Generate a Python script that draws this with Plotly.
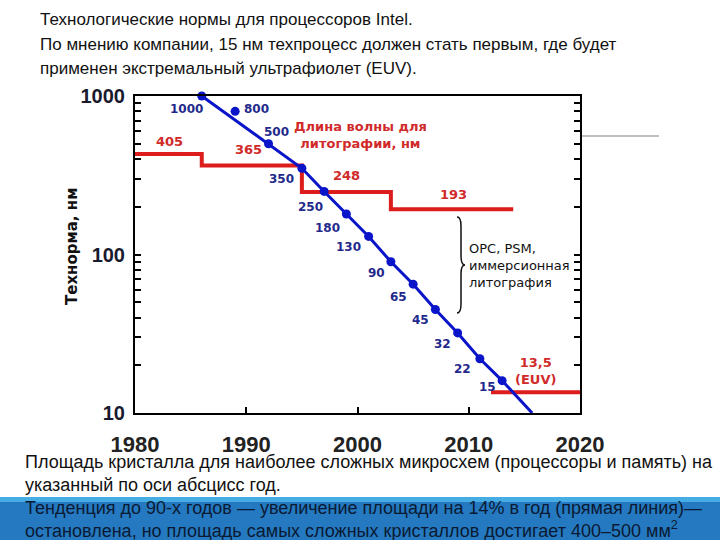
import math
import plotly.graph_objects as go

# ---------------- data ----------------
node_years = [1986, 1992, 1995, 1997, 1999, 2001, 2003, 2005, 2007, 2009, 2011, 2013]
node_values = [1000, 500, 350, 250, 180, 130, 90, 65, 45, 32, 22, 16]
node_labels = ["1000", "500", "350", "250", "180", "130", "90", "65", "45", "32", "22", "15"]
trend_end_year = 2015.7
trend_end_value = 10

extra_year = 1989
extra_value = 800
extra_label = "800"

wave_years = [1980, 1986, 1995, 2003, 2014]
wave_values = [430, 365, 248, 193, 193]
wave_labels = ["405", "365", "248", "193"]
wave_label_years = [1983.1, 1990.2, 1999.0, 2008.6]

euv_years = [2012, 2020]
euv_values = [13.5, 13.5]
euv_label = "13,5<br>(EUV)"
euv_label_year = 2016.0

x_ticks = [1980, 1990, 2000, 2010, 2020]
x_tick_text = ["1980", "1990", "2000", "2010", "2020"]
y_ticks = [10, 100, 1000]
y_tick_text = ["10", "100", "1000"]
y_minor = [20, 30, 40, 50, 60, 70, 80, 90, 200, 300, 400, 500, 600, 700, 800, 900]

title_lines = [
    "Технологические нормы для процессоров Intel.",
    "По мнению компании, 15 нм техпроцесс должен стать первым, где будет",
    "применен экстремальный ультрафиолет (EUV).",
]
bottom_lines = [
    "Площадь кристалла для наиболее сложных микросхем (процессоры и память) на",
    "указанный по оси абсцисс год.",
    "Тенденция до 90-х годов — увеличение площади на 14% в год (прямая линия)—",
    "остановлена, но площадь самых сложных кристаллов достигает 400–500 мм<sup>2</sup>",
]
y_title = "Технорма, нм"
wave_title = "Длина волны для<br>литографии, нм"
note_text = "OPC, PSM,<br>иммерсионная<br>литография"

# ---------------- styling ----------------
W, H = 720, 540
L, R, T, B = 135, 140, 96, 127
BLUE = "#0a14c8"
NAVY = "#1f2a8c"
RED = "#dd1c1c"
RED_TXT = "#d02a2a"


def px(x):
    return (x - L) / (W - L - R)


def py(y):
    return (H - B - y) / (H - T - B)


fig = go.Figure()

# wavelength steps
fig.add_trace(go.Scatter(x=wave_years, y=wave_values, mode="lines", line_shape="hv",
                         line=dict(color=RED, width=4), hoverinfo="skip", showlegend=False))
fig.add_trace(go.Scatter(x=euv_years, y=euv_values, mode="lines",
                         line=dict(color=RED, width=4), hoverinfo="skip", showlegend=False))

# node trend line
fig.add_trace(go.Scatter(x=node_years + [trend_end_year], y=node_values + [trend_end_value],
                         mode="lines", line=dict(color=BLUE, width=3),
                         hoverinfo="skip", showlegend=False))
fig.add_trace(go.Scatter(x=node_years, y=node_values, mode="markers",
                         marker=dict(color=BLUE, size=9), cliponaxis=False,
                         showlegend=False))
fig.add_trace(go.Scatter(x=[extra_year], y=[extra_value], mode="markers",
                         marker=dict(color=BLUE, size=9), cliponaxis=False,
                         showlegend=False))

annotations = []
label_font = dict(family="DejaVu Sans", size=12, color=NAVY, weight="bold")
node_offsets = [(-15, 13), (8, -12), (-20, 11), (-14, 16), (-19, 14), (-20, 11),
                (-14, 11), (-15, 13), (-15, 11), (-15, 11), (-17, 10), (-15, 6)]
for yr, v, lab, (dx, dy) in zip(node_years, node_values, node_labels, node_offsets):
    annotations.append(dict(x=yr, y=math.log10(v), text=lab, showarrow=False,
                            xanchor="center", yanchor="middle",
                            xshift=dx, yshift=-dy, font=label_font))
annotations.append(dict(x=extra_year, y=math.log10(extra_value), text=extra_label,
                        showarrow=False, xanchor="center", yanchor="middle",
                        xshift=21, yshift=2, font=label_font))

red_font = dict(family="DejaVu Sans", size=13, color=RED_TXT, weight="bold")
wave_shifts = [13, 16, 16, 15]
for yr, v, lab, s in zip(wave_label_years, wave_values, wave_labels, wave_shifts):
    annotations.append(dict(x=yr, y=math.log10(v), text=lab, showarrow=False,
                            xanchor="center", yanchor="middle",
                            yshift=s, font=red_font))
annotations.append(dict(x=euv_label_year, y=math.log10(euv_values[0]), text=euv_label,
                        showarrow=False, xanchor="center", yanchor="middle",
                        yshift=21, font=red_font))

annotations.append(dict(xref="paper", yref="paper", x=px(360), y=py(135), text=wave_title,
                        showarrow=False, xanchor="center", yanchor="middle",
                        font=red_font, align="center"))
annotations.append(dict(xref="paper", yref="paper", x=px(467), y=py(265), text=note_text,
                        showarrow=False, xanchor="left", yanchor="middle", align="left",
                        font=dict(family="DejaVu Sans", size=13, color="#111")))
annotations.append(dict(xref="paper", yref="paper", x=px(72), y=py(247), text=y_title,
                        textangle=-90, showarrow=False, xanchor="center", yanchor="middle",
                        font=dict(family="DejaVu Sans", size=15, color="#111", weight="bold")))

for i, line in enumerate(title_lines):
    annotations.append(dict(xref="paper", yref="paper", x=px(38), y=py([20, 45, 68][i]),
                            text=line, showarrow=False, xanchor="left", yanchor="middle",
                            font=dict(family="Liberation Sans", size=17, color="#111")))
for i, line in enumerate(bottom_lines):
    annotations.append(dict(xref="paper", yref="paper", x=px(23), y=py([462, 485, 508, 529][i]),
                            text=line, showarrow=False, xanchor="left", yanchor="middle",
                            font=dict(family="Liberation Sans", size=18,
                                      color="#111" if i < 2 else "#0b1a33")))

# brace path
bx = [457, 461, 465]
brace = (f"M {px(bx[0])},{py(217)} Q {px(bx[1])},{py(217)} {px(bx[1])},{py(226)} "
         f"L {px(bx[1])},{py(256)} Q {px(bx[1])},{py(265)} {px(bx[2])},{py(265)} "
         f"Q {px(bx[1])},{py(265)} {px(bx[1])},{py(274)} "
         f"L {px(bx[1])},{py(304)} Q {px(bx[1])},{py(313)} {px(bx[0])},{py(313)}")

shapes = [
    dict(type="rect", xref="paper", yref="paper", x0=px(-5), x1=px(730), y0=py(560), y1=py(502),
         fillcolor="#2479c0", line=dict(width=0), layer="below"),
    dict(type="rect", xref="paper", yref="paper", x0=px(-5), x1=px(730), y0=py(502), y1=py(497),
         fillcolor="#45ade3", line=dict(width=0), layer="below"),
    dict(type="path", xref="paper", yref="paper", path=brace, line=dict(color="#111", width=1.5)),
    dict(type="line", xref="paper", yref="paper", x0=px(582), x1=px(659), y0=py(136), y1=py(136),
         line=dict(color="#aaaaaa", width=1.5)),
]

fig.update_layout(
    width=W, height=H, autosize=False,
    margin=dict(l=L, r=R, t=T, b=B),
    paper_bgcolor="white", plot_bgcolor="white",
    showlegend=False,
    annotations=annotations, shapes=shapes,
    xaxis=dict(range=[1980, 2020], tickvals=x_ticks, ticktext=x_tick_text,
               ticks="inside", ticklen=6, tickwidth=2, tickcolor="black",
               showline=True, linecolor="black", linewidth=2, mirror=True,
               showgrid=False, zeroline=False, ticklabelstandoff=11,
               tickfont=dict(family="Liberation Sans", size=22, color="#222", weight="bold")),
    yaxis=dict(type="log", range=[1, 3], tickvals=y_ticks, ticktext=y_tick_text,
               ticks="inside", ticklen=6, tickwidth=2, tickcolor="black",
               showline=True, linecolor="black", linewidth=2, mirror="ticks",
               showgrid=False, zeroline=False, ticklabelstandoff=4,
               minor=dict(tickvals=y_minor, ticks="inside", ticklen=6, tickwidth=2,
                          tickcolor="black", showgrid=False),
               tickfont=dict(family="Liberation Sans", size=20, color="#1a1a2e", weight="bold")),
)

fig.write_html(
    "out.html",
    config={"displayModeBar": False},
    post_script="document.body.style.margin='0';document.body.style.overflow='hidden';",
)
